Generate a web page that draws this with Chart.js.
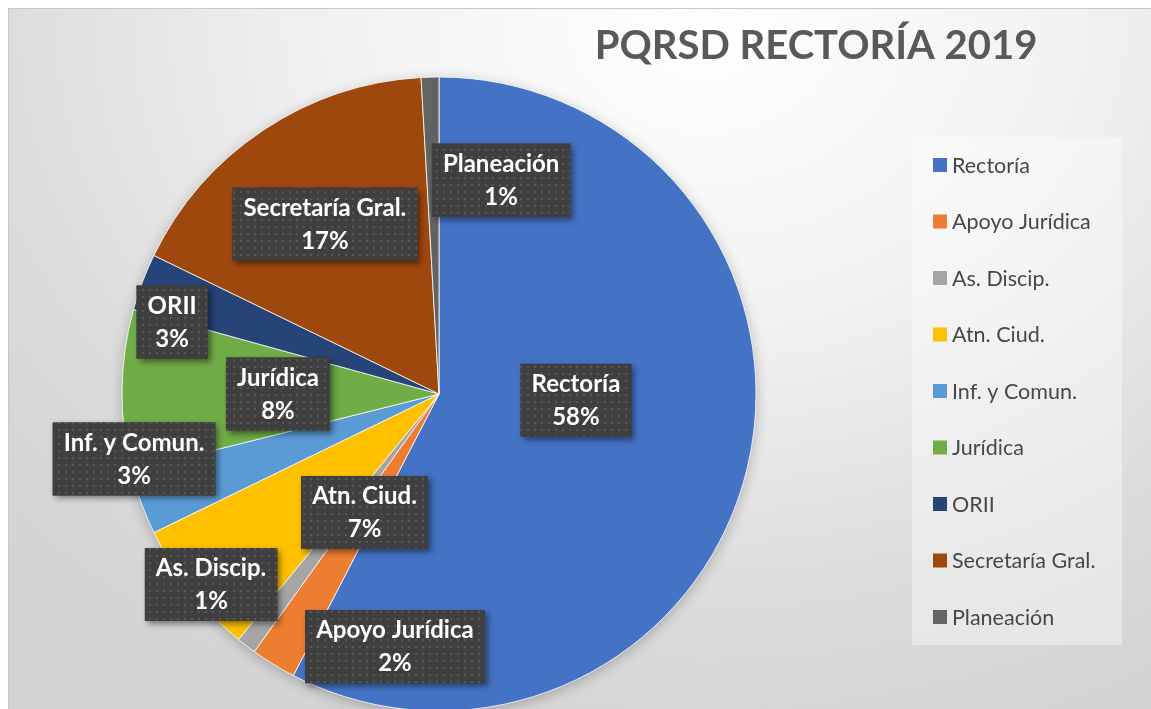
<!DOCTYPE html>
<html lang="es">
<head>
<meta charset="utf-8">
<title>PQRSD RECTORÍA 2019</title>
<script src="https://cdn.jsdelivr.net/npm/chart.js@4.4.1/dist/chart.umd.min.js"></script>
<style>
  html, body { margin: 0; padding: 0; background: #fff; overflow: hidden; }
  #frame {
    position: absolute; left: 8px; top: 8px; width: 1160px; height: 720px;
    border: 1px solid #c9c9c9;
    background: radial-gradient(ellipse 950px 760px at 60% 2%, #ffffff 0%, #f2f2f2 38%, #dcdcdc 75%, #d3d3d3 100%);
  }
  #chart { position: absolute; left: 0; top: 0; }
</style>
</head>
<body>
<div id="frame"></div>
<canvas id="chart" width="1151" height="709"></canvas>
<script>
// values (share of PQRSD, %)
const categories = ['Rectoría', 'Apoyo Jurídica', 'As. Discip.', 'Atn. Ciud.', 'Inf. y Comun.',
  'Jurídica', 'ORII', 'Secretaría Gral.', 'Planeación'];
const shares = [57.6, 2.3, 1.0, 6.9, 3.3, 8.2, 2.9, 16.9, 0.9];
const sliceColors = ['#4472C4', '#ED7D31', '#A5A5A5', '#FFC000', '#5B9BD5',
  '#70AD47', '#264478', '#9E480E', '#636363'];
const chartTitle = 'PQRSD RECTORÍA 2019';

// where each data label sits, relative to the pie centre, in radius units
const labelSpots = [
  [0.432, 0.020], [-0.139, 0.797], [-0.719, 0.601], [-0.235, 0.374], [-0.962, 0.205],
  [-0.508, 0.000], [-0.842, -0.227], [-0.360, -0.536], [0.196, -0.675]
];

/* ---------- helpers ---------- */
function dotPattern(ctx){
  const t = document.createElement('canvas');
  t.width = 7; t.height = 7;
  const c = t.getContext('2d');
  c.fillStyle = '#3f3f3f'; c.fillRect(0, 0, 7, 7);
  c.fillStyle = '#575757'; c.fillRect(2, 2, 2, 2);
  return ctx.createPattern(t, 'repeat');
}

const LEGEND = { x: 912, y: 137, w: 210, h: 508, first: 165, step: 56.5, box: 14 };

const decor = {
  id: 'decor',
  beforeDatasetsDraw(chart){
    const arc = chart.getDatasetMeta(0).data[0];
    if (!arc) return;
    const ctx = chart.ctx;
    ctx.save();
    ctx.shadowColor = 'rgba(0,0,0,0.28)';
    ctx.shadowBlur = 14;
    ctx.shadowOffsetY = 3;
    ctx.fillStyle = '#999';
    ctx.beginPath();
    ctx.arc(arc.x, arc.y, arc.outerRadius - 1, 0, Math.PI * 2);
    ctx.fill();
    ctx.restore();
  },
  afterDatasetsDraw(chart){
    const ctx = chart.ctx;
    const data = chart.data.datasets[0].data;
    const total = data.reduce((s, v) => s + v, 0);
    const pat = dotPattern(ctx);
    ctx.save();
    ctx.font = 'bold 24px Lato';
    chart.getDatasetMeta(0).data.forEach((arc, i) => {
      const spot = labelSpots[i];
      const cx = arc.x + spot[0] * arc.outerRadius;
      const cy = arc.y + spot[1] * arc.outerRadius;
      const lines = [chart.data.labels[i], Math.round(data[i] / total * 100) + '%'];
      const tw = Math.max(...lines.map(l => ctx.measureText(l).width));
      const w = tw + 22, h = 73;
      ctx.save();
      ctx.shadowColor = 'rgba(0,0,0,0.45)';
      ctx.shadowBlur = 6;
      ctx.shadowOffsetX = 3;
      ctx.shadowOffsetY = 3;
      ctx.fillStyle = '#3f3f3f';
      ctx.fillRect(cx - w / 2, cy - h / 2, w, h);
      ctx.restore();
      ctx.fillStyle = pat;
      ctx.fillRect(cx - w / 2, cy - h / 2, w, h);
      ctx.fillStyle = '#fff';
      ctx.textAlign = 'center';
      ctx.textBaseline = 'middle';
      ctx.fillText(lines[0], cx, cy - 16);
      ctx.fillText(lines[1], cx, cy + 17);
    });
    ctx.restore();
  },
  afterDraw(chart){
    const ctx = chart.ctx;
    ctx.save();
    // title
    ctx.font = 'bold 40px Lato';
    ctx.fillStyle = '#595959';
    ctx.textAlign = 'center';
    ctx.textBaseline = 'alphabetic';
    ctx.fillText(chartTitle, 816, 59);
    // legend panel
    ctx.fillStyle = 'rgba(255,255,255,0.38)';
    ctx.fillRect(LEGEND.x, LEGEND.y, LEGEND.w, LEGEND.h);
    ctx.font = '21.5px Lato';
    ctx.textAlign = 'left';
    ctx.textBaseline = 'middle';
    const colors = chart.data.datasets[0].backgroundColor;
    chart.data.labels.forEach((lab, i) => {
      const y = LEGEND.first + i * LEGEND.step;
      ctx.fillStyle = colors[i];
      ctx.fillRect(LEGEND.x + 21, y - LEGEND.box / 2, LEGEND.box, LEGEND.box);
      ctx.fillStyle = '#474747';
      ctx.fillText(lab, LEGEND.x + 40, y + 1);
    });
    ctx.restore();
  }
};

new Chart(document.getElementById('chart'), {
  type: 'pie',
  data: {
    labels: categories,
    datasets: [{
      data: shares,
      backgroundColor: sliceColors,
      borderColor: '#ffffff',
      borderWidth: 0.8,
      clip: false
    }]
  },
  options: {
    responsive: false,
    animation: false,
    radius: 317,
    layout: { padding: { left: 0, right: 273, top: 82, bottom: 3 } },
    plugins: {
      legend: { display: false },
      title: { display: false },
      tooltip: { enabled: false }
    }
  },
  plugins: [decor]
});
</script>
</body>
</html>
